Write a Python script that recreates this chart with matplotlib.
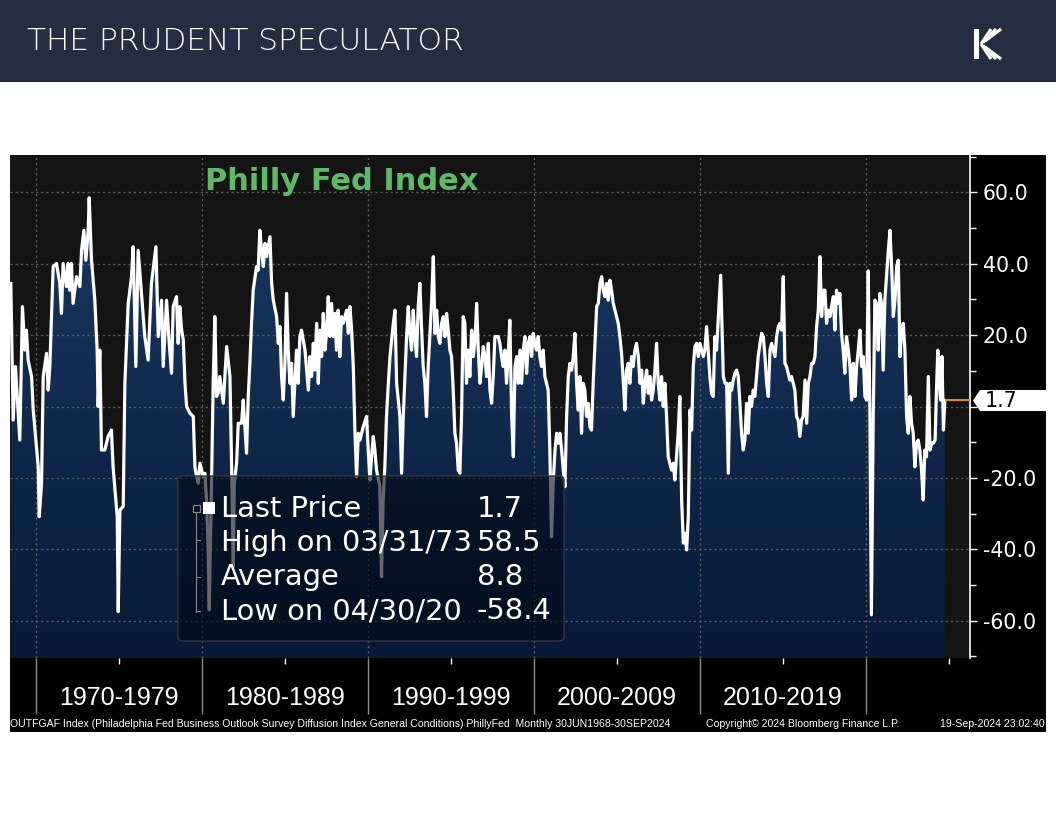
import numpy as np
import matplotlib
matplotlib.use("Agg")
import matplotlib.pyplot as plt
import matplotlib.transforms as mtransforms
from matplotlib.patches import Rectangle, Polygon, FancyBboxPatch, PathPatch
from matplotlib.colors import LinearSegmentedColormap

# ---------------- data (month-end dates as decimal years) ----------------
dates_1968_1978 = [
    1968.49, 1968.63, 1968.77, 1969.03, 1969.19, 1969.33, 1969.43, 1969.53, 1969.74, 1969.84,
    1970.14, 1970.20, 1970.34, 1970.44, 1970.64, 1970.74, 1970.84, 1971.04, 1971.24, 1971.44,
    1971.54, 1971.64, 1971.84, 1971.94, 1972.04, 1972.14, 1972.24, 1972.45, 1972.65, 1972.75,
    1972.89, 1973.01, 1973.15, 1973.21, 1973.35, 1973.55, 1973.69, 1973.75, 1973.85, 1973.95,
    1974.15, 1974.35, 1974.55, 1974.65, 1974.82, 1974.90, 1974.96, 1975.06, 1975.26, 1975.36,
    1975.56, 1975.76, 1975.86, 1976.02, 1976.16, 1976.36, 1976.56, 1976.76, 1976.96, 1977.23,
    1977.37, 1977.57, 1977.67, 1977.87, 1978.03, 1978.17, 1978.27, 1978.47, 1978.57, 1978.67]
values_1968_1978 = [
    34.5, -3.8, 11.2, -9.4, 28.0, 15.8, 21.4, 13.0, 8.4, -1.0,
    -16.9, -30.9, -21.5, 8.4, 14.9, 4.6, 11.2, 39.2, 40.1, 34.5,
    26.1, 40.1, 33.6, 40.1, 32.6, 40.1, 28.9, 36.4, 33.6, 43.8,
    49.4, 41.0, 49.4, 58.5, 41.0, 29.8, 15.8, 0.0, 15.8, -12.2,
    -12.2, -8.4, -6.6, -16.9, -26.2, -30.9, -57.5, -29.0, -28.0, 6.5,
    28.9, 36.4, 44.8, 11.2, 43.8, 31.7, 19.6, 13.0, 34.5, 44.8,
    19.6, 29.8, 11.2, 29.8, 17.7, 9.3, 28.0, 30.8, 17.7, 28.0]

dates_1978_1988 = [
    1978.78, 1978.88, 1978.98, 1979.08, 1979.28, 1979.48, 1979.58, 1979.68, 1979.78, 1979.88,
    1980.08, 1980.18, 1980.28, 1980.38, 1980.44, 1980.58, 1980.68, 1980.78, 1980.88, 1980.98,
    1981.08, 1981.29, 1981.49, 1981.69, 1981.79, 1981.89, 1981.95, 1982.09, 1982.19, 1982.39,
    1982.49, 1982.59, 1982.69, 1982.79, 1982.89, 1982.99, 1983.09, 1983.29, 1983.39, 1983.49,
    1983.59, 1983.70, 1983.80, 1983.90, 1984.10, 1984.20, 1984.30, 1984.50, 1984.60, 1984.70,
    1984.80, 1984.90, 1985.00, 1985.10, 1985.20, 1985.30, 1985.40, 1985.50, 1985.60, 1985.70,
    1985.80, 1985.90, 1986.00, 1986.21, 1986.41, 1986.51, 1986.61, 1986.71, 1986.81, 1986.91,
    1987.01, 1987.11, 1987.21, 1987.31, 1987.41, 1987.51, 1987.61, 1987.71, 1987.81, 1987.91,
    1988.01, 1988.11, 1988.21, 1988.31, 1988.41, 1988.51, 1988.72, 1988.82, 1988.92]
values_1978_1988 = [
    21.4, 18.6, 6.5, 0.0, -1.9, -2.8, -16.9, -19.7, -21.5, -15.9,
    -19.7, -18.7, -26.2, -40.2, -57.0, -21.5, 6.5, 25.2, 2.8, 3.7,
    8.4, 0.9, 16.8, 8.4, -16.9, -44.9, -21.5, -15.9, -4.7, -4.7,
    1.8, -5.6, -13.1, 2.8, 12.1, 23.3, 32.6, 39.2, 38.2, 49.4,
    43.8, 39.2, 45.7, 42.0, 47.6, 34.5, 29.8, 25.2, 17.7, 22.4,
    8.4, 1.8, 12.1, 31.7, 15.8, 6.5, 12.1, -2.8, 6.5, 15.8,
    6.5, 19.6, 21.4, 15.8, 4.6, 14.0, 8.4, 17.7, 10.2, 23.3,
    6.5, 21.4, 14.0, 26.1, 15.8, 20.5, 30.8, 19.6, 28.9, 19.6,
    26.1, 15.8, 27.0, 14.0, 25.2, 23.3, 27.0, 20.5, 28.0]

dates_1989_1999 = [
    1989.02, 1989.12, 1989.22, 1989.32, 1989.42, 1989.52, 1989.72, 1989.92, 1990.02, 1990.12,
    1990.22, 1990.32, 1990.42, 1990.52, 1990.72, 1990.82, 1990.92, 1991.02, 1991.12, 1991.23,
    1991.33, 1991.53, 1991.63, 1991.73, 1991.93, 1992.03, 1992.13, 1992.23, 1992.33, 1992.43,
    1992.53, 1992.63, 1992.73, 1992.83, 1992.93, 1993.03, 1993.13, 1993.23, 1993.33, 1993.43,
    1993.53, 1993.63, 1993.74, 1993.84, 1993.94, 1994.04, 1994.14, 1994.24, 1994.34, 1994.44,
    1994.54, 1994.64, 1994.74, 1994.84, 1994.94, 1995.04, 1995.14, 1995.24, 1995.34, 1995.44,
    1995.54, 1995.64, 1995.74, 1995.84, 1995.94, 1996.04, 1996.14, 1996.25, 1996.35, 1996.45,
    1996.55, 1996.65, 1996.75, 1996.85, 1996.95, 1997.05, 1997.15, 1997.25, 1997.35, 1997.45,
    1997.55, 1997.65, 1997.85, 1997.95, 1998.05, 1998.15, 1998.25, 1998.35, 1998.45, 1998.55,
    1998.66, 1998.76, 1998.86, 1998.96, 1999.06, 1999.16]
values_1989_1999 = [
    21.4, 11.2, -7.5, -19.7, -7.5, -9.4, -5.6, -2.8, -12.2, -20.6,
    -14.1, -8.4, -12.2, -17.8, -22.5, -47.7, -26.2, -16.9, -2.8, 6.5,
    14.0, 23.3, 27.0, 6.5, -2.8, -18.7, -2.8, 8.4, 19.6, 28.0,
    20.5, 15.8, 27.0, 19.6, 14.0, 28.0, 34.5, 22.4, 11.2, 6.5,
    -2.8, 11.2, 20.5, 29.8, 42.0, 20.5, 27.0, 19.6, 17.7, 23.3,
    25.2, 19.6, 26.1, 21.4, 15.8, 14.0, 4.6, -7.5, -10.3, -17.8,
    -18.7, -2.8, 25.2, 23.3, 6.5, 15.8, 8.4, 21.4, 14.0, 18.6,
    28.9, 15.8, 6.5, 11.2, 16.8, 14.0, 8.4, 17.7, 4.6, 0.9,
    8.4, 19.6, 19.6, 17.7, 14.0, 11.2, 15.8, 6.5, 14.0, 24.2,
    -2.8, -14.1, 11.2, 14.0, 6.5, 15.8]

dates_1999_2009 = [
    1999.26, 1999.36, 1999.46, 1999.56, 1999.66, 1999.76, 1999.86, 1999.96, 2000.06, 2000.16,
    2000.26, 2000.36, 2000.46, 2000.56, 2000.66, 2000.76, 2000.86, 2000.96, 2001.06, 2001.16,
    2001.27, 2001.37, 2001.47, 2001.57, 2001.67, 2001.77, 2001.87, 2001.97, 2002.07, 2002.17,
    2002.27, 2002.37, 2002.47, 2002.57, 2002.67, 2002.77, 2002.87, 2002.97, 2003.07, 2003.17,
    2003.27, 2003.37, 2003.47, 2003.57, 2003.68, 2003.78, 2003.88, 2003.98, 2004.08, 2004.18,
    2004.28, 2004.38, 2004.48, 2004.58, 2004.68, 2004.78, 2004.88, 2004.98, 2005.08, 2005.18,
    2005.28, 2005.38, 2005.48, 2005.58, 2005.68, 2005.78, 2005.88, 2005.98, 2006.08, 2006.18,
    2006.29, 2006.39, 2006.49, 2006.59, 2006.69, 2006.79, 2006.89, 2006.99, 2007.09, 2007.19,
    2007.29, 2007.39, 2007.49, 2007.59, 2007.69, 2007.79, 2007.89, 2007.99, 2008.09, 2008.19,
    2008.29, 2008.39, 2008.49, 2008.59, 2008.69, 2008.79, 2008.90, 2009.00, 2009.10, 2009.20,
    2009.30]
values_1999_2009 = [
    6.5, 15.8, 19.6, 9.3, 17.7, 19.6, 14.0, 20.5, 17.7, 15.8,
    19.6, 14.0, 11.2, 15.8, 8.4, 6.5, 4.6, -12.2, -36.5, -21.5,
    -12.2, -7.5, -10.3, -7.5, -12.2, -17.8, -22.5, -2.8, 8.4, 12.1,
    10.2, 14.0, 20.5, 6.5, -1.0, 8.4, -7.5, 6.5, 4.6, -2.8,
    0.9, -5.6, -6.6, 6.5, 17.7, 28.0, 28.9, 34.5, 36.4, 32.6,
    30.8, 34.5, 29.8, 35.4, 32.6, 28.9, 27.0, 25.2, 23.3, 19.6,
    14.9, 7.4, -1.0, 10.2, 12.1, 6.5, 14.0, 11.2, 15.8, 17.7,
    14.0, 6.5, 10.2, 0.9, 6.5, 10.2, 3.7, 8.4, 1.8, 4.6,
    10.2, 17.7, 6.5, 1.8, 8.4, 0.0, 6.5, -2.8, -14.1, -15.9,
    -17.8, -15.9, -20.6, -14.1, -7.5, 2.8, -26.2, -38.3, -35.5, -40.2,
    -30.9]

dates_2009_2020 = [
    2009.40, 2009.50, 2009.60, 2009.70, 2009.80, 2009.90, 2010.00, 2010.10, 2010.20, 2010.30,
    2010.40, 2010.50, 2010.60, 2010.70, 2010.80, 2010.90, 2011.00, 2011.11, 2011.25, 2011.41,
    2011.51, 2011.61, 2011.71, 2011.81, 2011.91, 2012.01, 2012.11, 2012.21, 2012.31, 2012.41,
    2012.51, 2012.61, 2012.71, 2012.81, 2012.91, 2013.01, 2013.11, 2013.21, 2013.31, 2013.41,
    2013.51, 2013.62, 2013.72, 2013.82, 2013.92, 2014.02, 2014.12, 2014.22, 2014.32, 2014.42,
    2014.52, 2014.62, 2014.72, 2014.82, 2014.92, 2015.02, 2015.12, 2015.22, 2015.32, 2015.42,
    2015.52, 2015.62, 2015.72, 2015.82, 2015.92, 2016.02, 2016.12, 2016.22, 2016.33, 2016.43,
    2016.53, 2016.63, 2016.73, 2016.83, 2016.93, 2017.03, 2017.13, 2017.23, 2017.33, 2017.43,
    2017.53, 2017.63, 2017.73, 2017.83, 2017.93, 2018.03, 2018.13, 2018.23, 2018.33, 2018.43,
    2018.53, 2018.63, 2018.73, 2018.83, 2018.94, 2019.04, 2019.14, 2019.24, 2019.34, 2019.44,
    2019.54, 2019.64, 2019.74, 2019.84, 2019.94, 2020.04]
values_2009_2020 = [
    -1.0, -6.6, 11.2, 16.8, 17.7, 14.0, 17.7, 15.8, 14.0, 15.8,
    22.4, 15.8, 8.4, 3.7, 2.8, 19.6, 15.8, 25.2, 36.8, 8.4,
    6.5, 6.5, -18.7, 6.5, 4.6, 7.4, 9.3, 10.2, 8.4, 0.9,
    -7.5, -12.2, -9.4, 0.9, -7.5, 2.8, 0.0, 4.6, 2.8, 8.4,
    14.0, 17.7, 20.5, 19.6, 14.0, 6.5, 2.8, 15.8, 17.7, 15.8,
    14.0, 19.6, 22.4, 23.3, 21.4, 36.4, 12.1, 11.2, 9.3, 7.4,
    8.4, 6.5, 4.6, -2.8, -3.8, -8.4, -3.8, -2.8, 7.4, -4.7,
    6.5, 8.4, 12.1, 12.1, 14.0, 22.4, 27.0, 42.0, 25.2, 32.6,
    32.6, 23.3, 27.0, 25.2, 28.0, 30.8, 21.4, 32.6, 28.9, 31.7,
    20.5, 15.8, 9.3, 19.6, 15.8, 11.2, 1.8, 12.1, 2.8, 11.2,
    15.8, 21.4, 11.2, 14.0, 2.8, 1.8]

dates_2020_2024 = [
    2020.14, 2020.24, 2020.33, 2020.44, 2020.54, 2020.64, 2020.74, 2020.84, 2020.94, 2021.04,
    2021.14, 2021.24, 2021.35, 2021.45, 2021.55, 2021.65, 2021.75, 2021.85, 2021.95, 2022.05,
    2022.15, 2022.25, 2022.35, 2022.45, 2022.55, 2022.65, 2022.75, 2022.85, 2022.95, 2023.05,
    2023.15, 2023.25, 2023.35, 2023.45, 2023.55, 2023.65, 2023.76, 2023.86, 2023.96, 2024.06,
    2024.17, 2024.25, 2024.33, 2024.42, 2024.50, 2024.58, 2024.67, 2024.75]
values_2020_2024 = [
    38.0, -2.8, -58.4, -2.8, 29.8, 28.9, 15.8, 31.7, 28.9, 10.2,
    29.8, 36.4, 43.8, 49.4, 39.2, 25.2, 29.8, 39.2, 41.0, 14.0,
    21.4, 23.3, 15.8, -2.8, -7.5, 2.8, -4.7, -7.5, -16.9, -10.3,
    -9.4, -12.2, -17.8, -26.2, -12.2, -14.1, 8.4, -12.2, -10.3, -10.3,
    -9.4, 4.6, 15.8, 6.5, 1.8, 14.0, -6.6, 1.7]

decade_starts = [1970, 1980, 1990, 2000, 2010, 2020]
decade_labels = ["1970-1979", "1980-1989", "1990-1999", "2000-2009", "2010-2019"]
y_ticks = [-60, -40, -20, 0, 20, 40, 60]
y_ticklabels = ["-60.0", "-40.0", "-20.0", "", "20.0", "40.0", "60.0"]
legend_names = ["Last Price", "High on 03/31/73", "Average", "Low on 04/30/20"]
legend_values = ["1.7", "58.5", "8.8", "-58.4"]
last_label = "1.7"
chart_title = "Philly Fed Index"
header_title = "THE PRUDENT SPECULATOR"
footer_left = ("OUTFGAF Index (Philadelphia Fed Business Outlook Survey Diffusion Index "
               "General Conditions) PhillyFed  Monthly 30JUN1968-30SEP2024")
footer_mid = "Copyright\u00a9 2024 Bloomberg Finance L.P."
footer_right = "19-Sep-2024 23:02:40"

t = np.concatenate([dates_1968_1978, dates_1978_1988, dates_1989_1999,
                    dates_1999_2009, dates_2009_2020, dates_2020_2024])
v = np.concatenate([values_1968_1978, values_1978_1988, values_1989_1999,
                    values_1999_2009, values_2009_2020, values_2020_2024])

# ---------------- figure ----------------
W, H = 1056, 816
fig = plt.figure(figsize=(W / 100, H / 100), dpi=100, facecolor="white")


def fx(px):
    return px / W


def fy(py):
    return 1 - py / H


# header bar
fig.add_artist(Rectangle((0, fy(82)), 1, 82 / H, transform=fig.transFigure,
                         facecolor="#252d43", edgecolor="none", zorder=-2))
fig.text(fx(27), fy(42), header_title, color="white", fontsize=22.5,
         family="DejaVu Sans", fontweight="light", va="center", ha="left")

# logo (stylised K)
lw_logo = 2.2
fig.add_artist(Rectangle((fx(974), fy(59)), 5 / W, 30 / H, transform=fig.transFigure,
                         facecolor="white", edgecolor="none", zorder=-1))
for off in (0, 5, 10):
    fig.add_artist(plt.Line2D([fx(981 + off * 0.4), fx(991 + off)],
                              [fy(44 - off * 0.3), fy(29)],
                              transform=fig.transFigure, color="white", lw=lw_logo,
                              solid_capstyle="butt", zorder=-1))
    fig.add_artist(plt.Line2D([fx(981 + off * 0.4), fx(991 + off)],
                              [fy(44 + off * 0.3), fy(59)],
                              transform=fig.transFigure, color="white", lw=lw_logo,
                              solid_capstyle="butt", zorder=-1))

# black Bloomberg panel
fig.add_artist(Rectangle((fx(10), fy(732)), 1036 / W, 577 / H, transform=fig.transFigure,
                         facecolor="black", edgecolor="none", zorder=-1))

# axes
ax = fig.add_axes([fx(10), fy(658), 960 / W, 503 / H])
ax.set_facecolor("#141414")
xmin, xmax = 1968.44, 2026.27
ymin, ymax = -70.5, 70.5
ax.set_xlim(xmin, xmax)
ax.set_ylim(ymin, ymax)

# gradient fill under the curve
poly = ax.fill_between(t, v, ymin, facecolor="none", edgecolor="none")
clip = PathPatch(poly.get_paths()[0], transform=ax.transData, facecolor="none", edgecolor="none")
cmap = LinearSegmentedColormap.from_list("navy", ["#061a35", "#1a3b66"])
grad = np.linspace(1, 0, 256).reshape(-1, 1)
im = ax.imshow(grad, extent=[t[0], t[-1], ymin, ymax], aspect="auto", cmap=cmap,
               origin="upper", zorder=2, interpolation="bilinear")
im.set_clip_path(clip)
ax.set_xlim(xmin, xmax)
ax.set_ylim(ymin, ymax)

ax.plot(t, v, color="white", lw=2.3, zorder=3, solid_joinstyle="round")
ax.hlines(v[-1], t[-1], xmax, color="#e3892b", lw=1.5, zorder=3)

# grid & ticks
ax.set_axisbelow(False)
ax.set_xticks(decade_starts)
ax.set_xticks([d + 5 for d in decade_starts], minor=True)
ax.set_xticklabels([])
ax.set_yticks(y_ticks)
ax.set_yticklabels(y_ticklabels)
ax.set_yticks([-70, -50, -30, -10, 10, 30, 50, 70], minor=True)
ax.yaxis.tick_right()
ax.grid(True, which="major", color="#5e5e5e", linestyle=(0, (1.5, 2.2)), linewidth=1)
ax.tick_params(axis="y", which="major", length=5, width=1, colors="white",
               labelsize=14.8, pad=4)
ax.tick_params(axis="y", which="minor", length=4, width=1, colors="white")
ax.tick_params(axis="x", which="major", length=40, width=1, color="#8e8e8e")
ax.tick_params(axis="x", which="minor", length=4, width=1, color="white")
for side in ("top", "left", "bottom"):
    ax.spines[side].set_visible(False)
ax.spines["right"].set_color("white")
ax.spines["right"].set_linewidth(1.2)

trans = mtransforms.blended_transform_factory(ax.transData, ax.transAxes)
for d, lab in zip(decade_starts, decade_labels):
    ax.text(d + 5, -0.08, lab, transform=trans, ha="center", va="center",
            color="white", fontsize=18, family="Liberation Sans", clip_on=False)

# chart title
fig.text(fx(205), fy(182), chart_title, color="#5eba66", fontsize=22,
         fontweight="bold", family="DejaVu Sans", va="center", ha="left")

# last value tag
tag = [(973, 400.5), (980, 390), (1046, 390), (1046, 411), (980, 411)]
fig.add_artist(Polygon([(fx(a), fy(b)) for a, b in tag], closed=True,
                       transform=fig.transFigure, facecolor="white",
                       edgecolor="none", zorder=2))
fig.text(fx(985), fy(401), last_label, color="black", fontsize=14.8,
         va="center", ha="left", zorder=3)

# legend box
fig.add_artist(FancyBboxPatch((fx(178), fy(641)), (564 - 178) / W, (641 - 476) / H,
                              boxstyle="round,pad=0,rounding_size=0.005",
                              transform=fig.transFigure,
                              facecolor=(0.01, 0.04, 0.09, 0.62),
                              edgecolor="#30353f", lw=1, zorder=2))
fig.add_artist(Rectangle((fx(203), fy(514)), 12 / W, 12 / H, transform=fig.transFigure,
                         facecolor="white", edgecolor="none", zorder=3))
fig.add_artist(Rectangle((fx(193), fy(512)), 7 / W, 7 / H, transform=fig.transFigure,
                         facecolor="none", edgecolor="#8a8a8a", lw=0.8, zorder=3))
fig.add_artist(plt.Line2D([fx(196), fx(196)], [fy(512), fy(612)],
                          transform=fig.transFigure, color="#8a8a8a", lw=0.8, zorder=3))
for yy in (540, 577, 611):
    fig.add_artist(plt.Line2D([fx(196), fx(200)], [fy(yy), fy(yy)],
                              transform=fig.transFigure, color="#8a8a8a", lw=0.8, zorder=3))
row_y = [509, 543, 577, 611]
for yy, name, val in zip(row_y, legend_names, legend_values):
    fig.text(fx(221), fy(yy), name, color="white", fontsize=20.8, va="center",
             ha="left", zorder=4)
    fig.text(fx(477), fy(yy), val, color="white", fontsize=20.8, va="center",
             ha="left", zorder=4)

# footer
foot_font = "Liberation Sans"
fig.text(fx(10), fy(724), footer_left, color="white", fontsize=7.55, family=foot_font,
         va="center", ha="left")
fig.text(fx(706), fy(724), footer_mid, color="white", fontsize=7.55, family=foot_font,
         va="center", ha="left")
fig.text(fx(1045), fy(724), footer_right, color="white", fontsize=7.55, family=foot_font,
         va="center", ha="right")

fig.savefig("out.png", dpi=100, facecolor="white")
